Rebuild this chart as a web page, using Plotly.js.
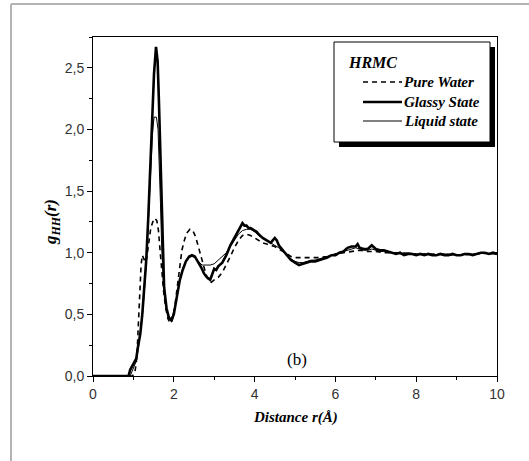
<!DOCTYPE html>
<html>
<head>
<meta charset="utf-8">
<script src="https://cdn.plot.ly/plotly-3.0.1.min.js"></script>
<style>
html,body{margin:0;padding:0;background:#fff;}
#chart{width:529px;height:461px;}
</style>
</head>
<body>
<div id="chart"></div>
<script>
// Glassy State (thick solid)
const glassyX = [0,0.88,0.92,0.97,1.02,1.07,1.12,1.17,1.22,1.27,1.32,1.37,1.42,1.47,1.51,1.56,1.6,1.63,1.66,1.69,1.72,1.76,1.82,1.88,1.94,2.0,2.08,2.15,2.22,2.3,2.38,2.45,2.52,2.6,2.68,2.75,2.82,2.9,2.95,3.0,3.05,3.1,3.2,3.3,3.4,3.5,3.6,3.65,3.7,3.75,3.8,3.85,3.9,4.0,4.05,4.1,4.2,4.3,4.4,4.45,4.5,4.55,4.6,4.7,4.8,4.9,5.0,5.1,5.2,5.3,5.4,5.5,5.6,5.7,5.8,5.9,6.0,6.1,6.2,6.3,6.4,6.5,6.55,6.6,6.7,6.8,6.9,7.0,7.1,7.2,7.3,7.4,7.5,7.6,7.7,7.8,7.9,8.0,8.1,8.2,8.3,8.4,8.5,8.6,8.7,8.8,8.9,9.0,9.1,9.2,9.3,9.4,9.5,9.6,9.7,9.8,9.9,10.0];
const glassyY = [0,0,0.05,0.08,0.10,0.14,0.25,0.34,0.5,0.72,0.95,1.3,1.75,2.15,2.45,2.67,2.55,2.25,1.9,1.45,1.0,0.72,0.55,0.47,0.45,0.5,0.65,0.78,0.86,0.93,0.97,0.98,0.97,0.93,0.88,0.83,0.8,0.78,0.82,0.87,0.86,0.89,0.92,0.98,1.06,1.12,1.19,1.22,1.24,1.22,1.22,1.2,1.2,1.18,1.17,1.15,1.12,1.1,1.08,1.1,1.12,1.1,1.06,1.02,0.98,0.94,0.92,0.9,0.91,0.92,0.93,0.93,0.94,0.95,0.96,0.98,0.98,1.0,1.01,1.04,1.05,1.05,1.07,1.04,1.03,1.03,1.06,1.03,1.02,1.02,1.01,1.0,0.99,1.0,0.98,0.99,0.99,0.98,0.99,0.98,0.99,0.98,0.98,0.99,0.98,0.98,0.99,0.98,0.98,0.99,0.99,0.98,0.99,1.0,1.0,0.99,1.0,0.99];

// Liquid state (thin solid)
const liquidX = [0,0.92,0.97,1.02,1.07,1.12,1.17,1.22,1.27,1.32,1.37,1.42,1.47,1.51,1.57,1.61,1.64,1.67,1.7,1.74,1.79,1.85,1.91,1.96,2.02,2.08,2.15,2.22,2.3,2.38,2.45,2.52,2.6,2.7,2.8,2.9,3.0,3.1,3.2,3.3,3.4,3.5,3.6,3.7,3.8,3.9,4.0,4.1,4.2,4.3,4.4,4.5,4.6,4.7,4.8,4.9,5.0,5.1,5.2,5.3,5.4,5.5,5.6,5.7,5.8,5.9,6.0,6.1,6.2,6.3,6.4,6.5,6.6,6.7,6.8,6.9,7.0,7.1,7.2,7.3,7.4,7.5,7.6,7.8,8.0,8.2,8.4,8.6,8.8,9.0,9.2,9.4,9.6,9.8,10.0];
const liquidY = [0,0,0.04,0.08,0.12,0.22,0.33,0.48,0.68,0.92,1.25,1.65,1.95,2.1,2.1,2.0,1.75,1.4,1.05,0.78,0.6,0.5,0.47,0.48,0.55,0.66,0.78,0.87,0.93,0.96,0.97,0.96,0.93,0.9,0.9,0.9,0.91,0.94,0.97,1.0,1.05,1.1,1.15,1.18,1.19,1.19,1.17,1.14,1.12,1.1,1.08,1.06,1.04,1.01,0.98,0.95,0.93,0.92,0.92,0.93,0.94,0.94,0.95,0.96,0.97,0.98,0.99,1.0,1.01,1.02,1.03,1.04,1.03,1.02,1.02,1.03,1.02,1.01,1.01,1.0,1.0,1.0,0.99,1.0,0.99,0.99,0.98,0.99,0.99,0.98,0.99,0.99,1.0,0.99,0.99];

// Pure Water (dashed)
const waterX = [0,0.97,1.03,1.07,1.1,1.13,1.16,1.19,1.22,1.26,1.3,1.34,1.38,1.43,1.48,1.53,1.58,1.62,1.66,1.7,1.75,1.8,1.86,1.91,1.96,2.02,2.08,2.14,2.2,2.26,2.32,2.4,2.47,2.54,2.6,2.66,2.72,2.8,2.87,2.93,3.0,3.1,3.2,3.3,3.4,3.5,3.6,3.7,3.8,3.9,4.0,4.1,4.2,4.3,4.4,4.5,4.6,4.7,4.8,4.9,5.0,5.2,5.4,5.6,5.8,6.0,6.2,6.4,6.6,6.8,7.0,7.2,7.5,8.0,8.5,9.0,9.5,10.0];
const waterY = [0,0,0.02,0.1,0.25,0.5,0.7,0.9,0.98,0.95,0.92,0.98,1.1,1.2,1.25,1.28,1.26,1.18,1.02,0.85,0.68,0.55,0.46,0.43,0.45,0.55,0.72,0.9,1.02,1.1,1.16,1.19,1.18,1.13,1.06,0.98,0.9,0.82,0.77,0.76,0.78,0.8,0.84,0.9,0.97,1.04,1.1,1.14,1.15,1.14,1.12,1.1,1.08,1.07,1.06,1.05,1.03,1.01,0.99,0.97,0.96,0.96,0.96,0.96,0.97,0.99,1.0,1.01,1.02,1.01,1.01,1.0,1.0,0.99,0.99,0.98,0.99,1.0];

const seriesNames = ['Pure Water','Glassy State','Liquid state'];
const legendTitle = 'HRMC';
const xTitle = 'Distance r(Å)';

// pixel -> paper helpers (plot area 93..497 x, 37..376 y)
const L = 93, R = 497, T = 37, B = 376;
const px = p => (p - L) / (R - L);
const py = p => (B - p) / (B - T);

const serif = 'Liberation Serif';
const sans = 'Liberation Sans';

const traces = [
  {x: glassyX, y: glassyY, name: seriesNames[1], mode: 'lines', line: {color: '#000', width: 2.6}, showlegend: false},
  {x: liquidX, y: liquidY, name: seriesNames[2], mode: 'lines', line: {color: '#000', width: 1}, showlegend: false},
  {x: waterX, y: waterY, name: seriesNames[0], mode: 'lines', line: {color: '#000', width: 1.6, dash: '5px,4px'}, showlegend: false}
];

const legendShapes = [
  {type: 'rect', xref: 'paper', yref: 'paper', x0: px(339), x1: px(495), y0: py(147), y1: py(47), fillcolor: '#000', line: {width: 0}},
  {type: 'rect', xref: 'paper', yref: 'paper', x0: px(334), x1: px(490), y0: py(142), y1: py(42), fillcolor: '#fff', line: {color: '#000', width: 1}},
  {type: 'line', xref: 'paper', yref: 'paper', x0: px(363), x1: px(402), y0: py(82), y1: py(82), line: {color: '#000', width: 1.6, dash: '5px,4px'}},
  {type: 'line', xref: 'paper', yref: 'paper', x0: px(363), x1: px(402), y0: py(102), y1: py(102), line: {color: '#000', width: 2.6}},
  {type: 'line', xref: 'paper', yref: 'paper', x0: px(363), x1: px(402), y0: py(121), y1: py(121), line: {color: '#000', width: 1}}
];

const frameShapes = [
  {type: 'line', xref: 'paper', yref: 'paper', x0: px(11), x1: px(529), y0: py(4), y1: py(4), line: {color: '#b4b4b4', width: 2}},
  {type: 'line', xref: 'paper', yref: 'paper', x0: px(11), x1: px(11), y0: py(4), y1: py(461), line: {color: '#b4b4b4', width: 2}}
];

const bi = (t) => '<b><i>' + t + '</i></b>';
const annotations = [
  {xref: 'paper', yref: 'paper', x: px(346), y: py(62), xanchor: 'left', yanchor: 'middle', text: bi(legendTitle), showarrow: false, font: {family: serif, size: 16, color: '#000'}},
  {xref: 'paper', yref: 'paper', x: px(402), y: py(82), xanchor: 'left', yanchor: 'middle', text: bi(seriesNames[0]), showarrow: false, font: {family: serif, size: 15, color: '#000'}},
  {xref: 'paper', yref: 'paper', x: px(402), y: py(102), xanchor: 'left', yanchor: 'middle', text: bi(seriesNames[1]), showarrow: false, font: {family: serif, size: 15, color: '#000'}},
  {xref: 'paper', yref: 'paper', x: px(402), y: py(121), xanchor: 'left', yanchor: 'middle', text: bi(seriesNames[2]), showarrow: false, font: {family: serif, size: 15, color: '#000'}},
  {xref: 'x', yref: 'y', x: 5.05, y: 0.13, text: '(b)', showarrow: false, font: {family: serif, size: 17, color: '#000'}},
  {xref: 'paper', yref: 'paper', x: 0.5, y: py(417), xanchor: 'center', yanchor: 'middle', text: bi(xTitle), showarrow: false, font: {family: serif, size: 15, color: '#000'}},
  {xref: 'paper', yref: 'paper', x: px(52), y: py(222), xanchor: 'center', yanchor: 'middle', textangle: -90, text: bi('g<sub>HH</sub>(r)'), showarrow: false, font: {family: serif, size: 17, color: '#000'}}
];

const tickFont = {family: sans, size: 14, color: '#333'};

const layout = {
  width: 529, height: 461,
  margin: {l: L, r: 529 - R, t: T, b: 461 - B, pad: 0},
  paper_bgcolor: '#fff', plot_bgcolor: '#fff',
  separators: ',.',
  showlegend: false,
  xaxis: {
    range: [0, 10], dtick: 2, tick0: 0,
    showgrid: false, zeroline: false,
    showline: true, linecolor: '#000', linewidth: 1, mirror: true,
    ticks: 'outside', ticklen: 5, tickcolor: '#000', tickwidth: 1,
    minor: {dtick: 1, ticks: 'outside', ticklen: 3, tickcolor: '#000', tickwidth: 1},
    tickfont: tickFont
  },
  yaxis: {
    range: [0, 2.75], dtick: 0.5, tick0: 0, tickformat: '.1f',
    showgrid: false, zeroline: false,
    showline: true, linecolor: '#000', linewidth: 1, mirror: true,
    ticks: 'outside', ticklen: 5, tickcolor: '#000', tickwidth: 1,
    minor: {dtick: 0.25, ticks: 'outside', ticklen: 3, tickcolor: '#000', tickwidth: 1},
    tickfont: tickFont
  },
  shapes: frameShapes.concat(legendShapes),
  annotations: annotations
};

Plotly.newPlot('chart', traces, layout, {displayModeBar: false, staticPlot: true});
</script>
</body>
</html>
